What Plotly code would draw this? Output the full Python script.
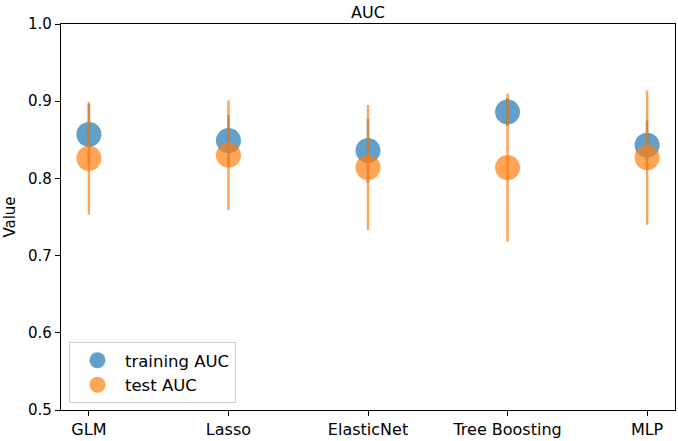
import plotly.graph_objects as go

models = ["GLM", "Lasso", "ElasticNet", "Tree Boosting", "MLP"]
train_auc = [0.857, 0.849, 0.836, 0.886, 0.843]
train_err = [0.039, 0.033, 0.041, 0.018, 0.032]
test_auc = [0.826, 0.830, 0.814, 0.814, 0.827]
test_err = [0.073, 0.071, 0.081, 0.096, 0.087]
y_ticks = [0.5, 0.6, 0.7, 0.8, 0.9, 1.0]

blue = "rgba(31,119,180,0.7)"
orange = "rgba(255,127,14,0.7)"
font = "DejaVu Sans"

xs = list(range(len(models)))

fig = go.Figure()
fig.add_trace(go.Scatter(
    x=xs, y=train_auc, mode="markers", name="training AUC",
    marker=dict(size=25, color=blue, line=dict(width=0)),
    error_y=dict(type="data", array=train_err, color=blue, thickness=2.5, width=0),
))
fig.add_trace(go.Scatter(
    x=xs, y=test_auc, mode="markers", name="test AUC",
    marker=dict(size=25, color=orange, line=dict(width=0)),
    error_y=dict(type="data", array=test_err, color=orange, thickness=2.5, width=0),
))

axis_common = dict(
    showline=True, linecolor="black", linewidth=1.2, mirror=True,
    ticks="outside", ticklen=5, tickwidth=1, tickcolor="black",
    showgrid=False, zeroline=False,
)

fig.update_layout(
    width=678, height=441,
    margin=dict(l=61, r=2, t=24, b=29),
    paper_bgcolor="white", plot_bgcolor="white",
    font=dict(family=font, size=15, color="black"),
    title=dict(text="AUC", x=0.5, xref="paper", xanchor="center",
               y=1 - 12 / 441, yref="container", yanchor="middle",
               font=dict(family=font, size=16, color="black")),
    xaxis=dict(range=[-0.2, 4.2], tickmode="array", tickvals=xs, ticktext=models,
               tickfont=dict(family=font, size=16, color="black"), **axis_common),
    yaxis=dict(range=[0.5, 1.0], tickmode="array", tickvals=y_ticks,
               ticktext=[f"{v:.1f}" for v in y_ticks],
               tickfont=dict(family=font, size=15, color="black"),
               title=dict(text="Value", standoff=8, font=dict(family=font, size=15)),
               **axis_common),
    legend=dict(x=0.013, y=0.018, xanchor="left", yanchor="bottom",
                bgcolor="rgba(255,255,255,0.8)", bordercolor="#cccccc", borderwidth=1,
                font=dict(family=font, size=16.5), itemsizing="trace",
                itemwidth=45, tracegroupgap=0),
    showlegend=True,
)

fig.write_html("out.html", config={"displayModeBar": False},
               post_script="document.body.style.margin='0';")
